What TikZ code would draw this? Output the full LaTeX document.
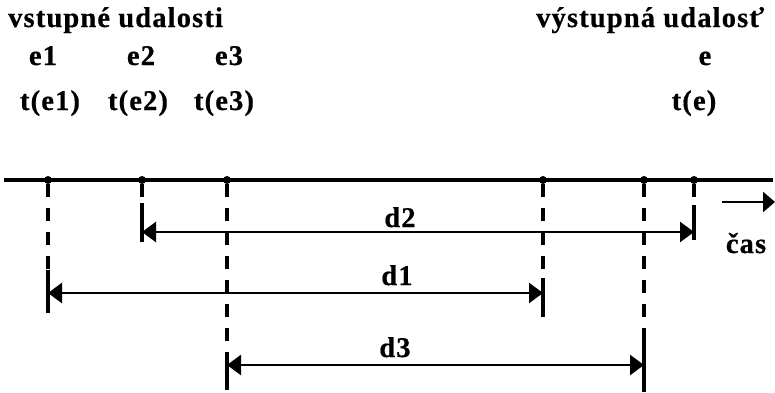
\documentclass[tikz,border=0pt]{standalone}
\usepackage{fontspec}
\setmainfont{Liberation Serif}
\newfontfamily\lblfont[LetterSpace=4,FakeBold=0.6]{Liberation Serif Bold}
\usetikzlibrary{arrows.meta}
\begin{document}
\begin{tikzpicture}[x=1pt,y=-1pt,
  lbl/.style={font=\lblfont\fontsize{28.5}{32}\selectfont, inner sep=0pt},
  dot/.style={circle, fill=black, inner sep=0pt, minimum size=8pt},
  axisline/.style={line width=4pt},
  guide/.style={line width=4.5pt, dash pattern=on 13pt off 11pt},
  endbar/.style={line width=4.5pt},
  dim/.style={line width=2.5pt, {Triangle[length=14pt,width=20pt]}-{Triangle[length=14pt,width=20pt]}},
  timearrow/.style={line width=2.5pt, -{Triangle[length=12pt,width=20pt]}}]
\useasboundingbox (0,0) rectangle (775,392);

% headings
\node[lbl, anchor=base west] (hin) at (8,27) {vstupné udalosti};
\node[lbl, anchor=base west] (hout) at (536,27) {výstupná udalosť};
% event names
\node[lbl, anchor=base] (n1) at (43,65) {e1};
\node[lbl, anchor=base] (n2) at (141,65) {e2};
\node[lbl, anchor=base] (n3) at (229,65) {e3};
\node[lbl, anchor=base] (n0) at (705,65) {e};
% event times
\node[lbl, anchor=base] (m1) at (50,110) {t(e1)};
\node[lbl, anchor=base] (m2) at (138,110) {t(e2)};
\node[lbl, anchor=base] (m3) at (224,110) {t(e3)};
\node[lbl, anchor=base] (m0) at (694,110) {t(e)};

% time axis
\coordinate (ax0) at (4,180);
\coordinate (ax1) at (773,180);
\draw[axisline] (ax0) -- (ax1);

% points on the axis
\node[dot] (p1) at (48,180) {};
\node[dot] (p2) at (142,180) {};
\node[dot] (p3) at (227,180) {};
\node[dot] (q1) at (543,180) {};
\node[dot] (q3) at (644,180) {};
\node[dot] (q2) at (694,180) {};

% end bars of the intervals
\coordinate (a1t) at (48,270);  \coordinate (a1b) at (48,313);
\coordinate (a2t) at (142,203); \coordinate (a2b) at (142,242);
\coordinate (a3t) at (227,352); \coordinate (a3b) at (227,390);
\coordinate (z1t) at (543,278); \coordinate (z1b) at (543,317);
\coordinate (z2t) at (694,205); \coordinate (z2b) at (694,240);
\coordinate (z3t) at (644,338); \coordinate (z3b) at (644,392);

% dashed projections
\draw[guide] (p1) -- (a1t);
\draw[guide] (p2) -- (a2t);
\draw[guide] (p3) -- (a3t);
\draw[guide] (q1) -- (z1t);
\draw[guide] (q2) -- (z2t);
\draw[guide] (q3) -- (z3t);

\draw[endbar] (a1t) -- (a1b);
\draw[endbar] (a2t) -- (a2b);
\draw[endbar] (a3t) -- (a3b);
\draw[endbar] (z1t) -- (z1b);
\draw[endbar] (z2t) -- (z2b);
\draw[endbar] (z3t) -- (z3b);

% intervals
\coordinate (d2s) at (142,232); \coordinate (d2e) at (694,232);
\coordinate (d1s) at (48,293);  \coordinate (d1e) at (543,293);
\coordinate (d3s) at (227,365); \coordinate (d3e) at (644,365);
\draw[dim] (d2s) -- (d2e);
\draw[dim] (d1s) -- (d1e);
\draw[dim] (d3s) -- (d3e);
\node[lbl, anchor=base] (l2) at (400,227) {d2};
\node[lbl, anchor=base] (l1) at (397,285) {d1};
\node[lbl, anchor=base] (l3) at (395,357) {d3};

% time direction
\coordinate (ts) at (722,202);
\coordinate (te) at (775,202);
\draw[timearrow] (ts) -- (te);
\node[lbl, anchor=base] (cas) at (746,253) {čas};
\end{tikzpicture}
\end{document}
